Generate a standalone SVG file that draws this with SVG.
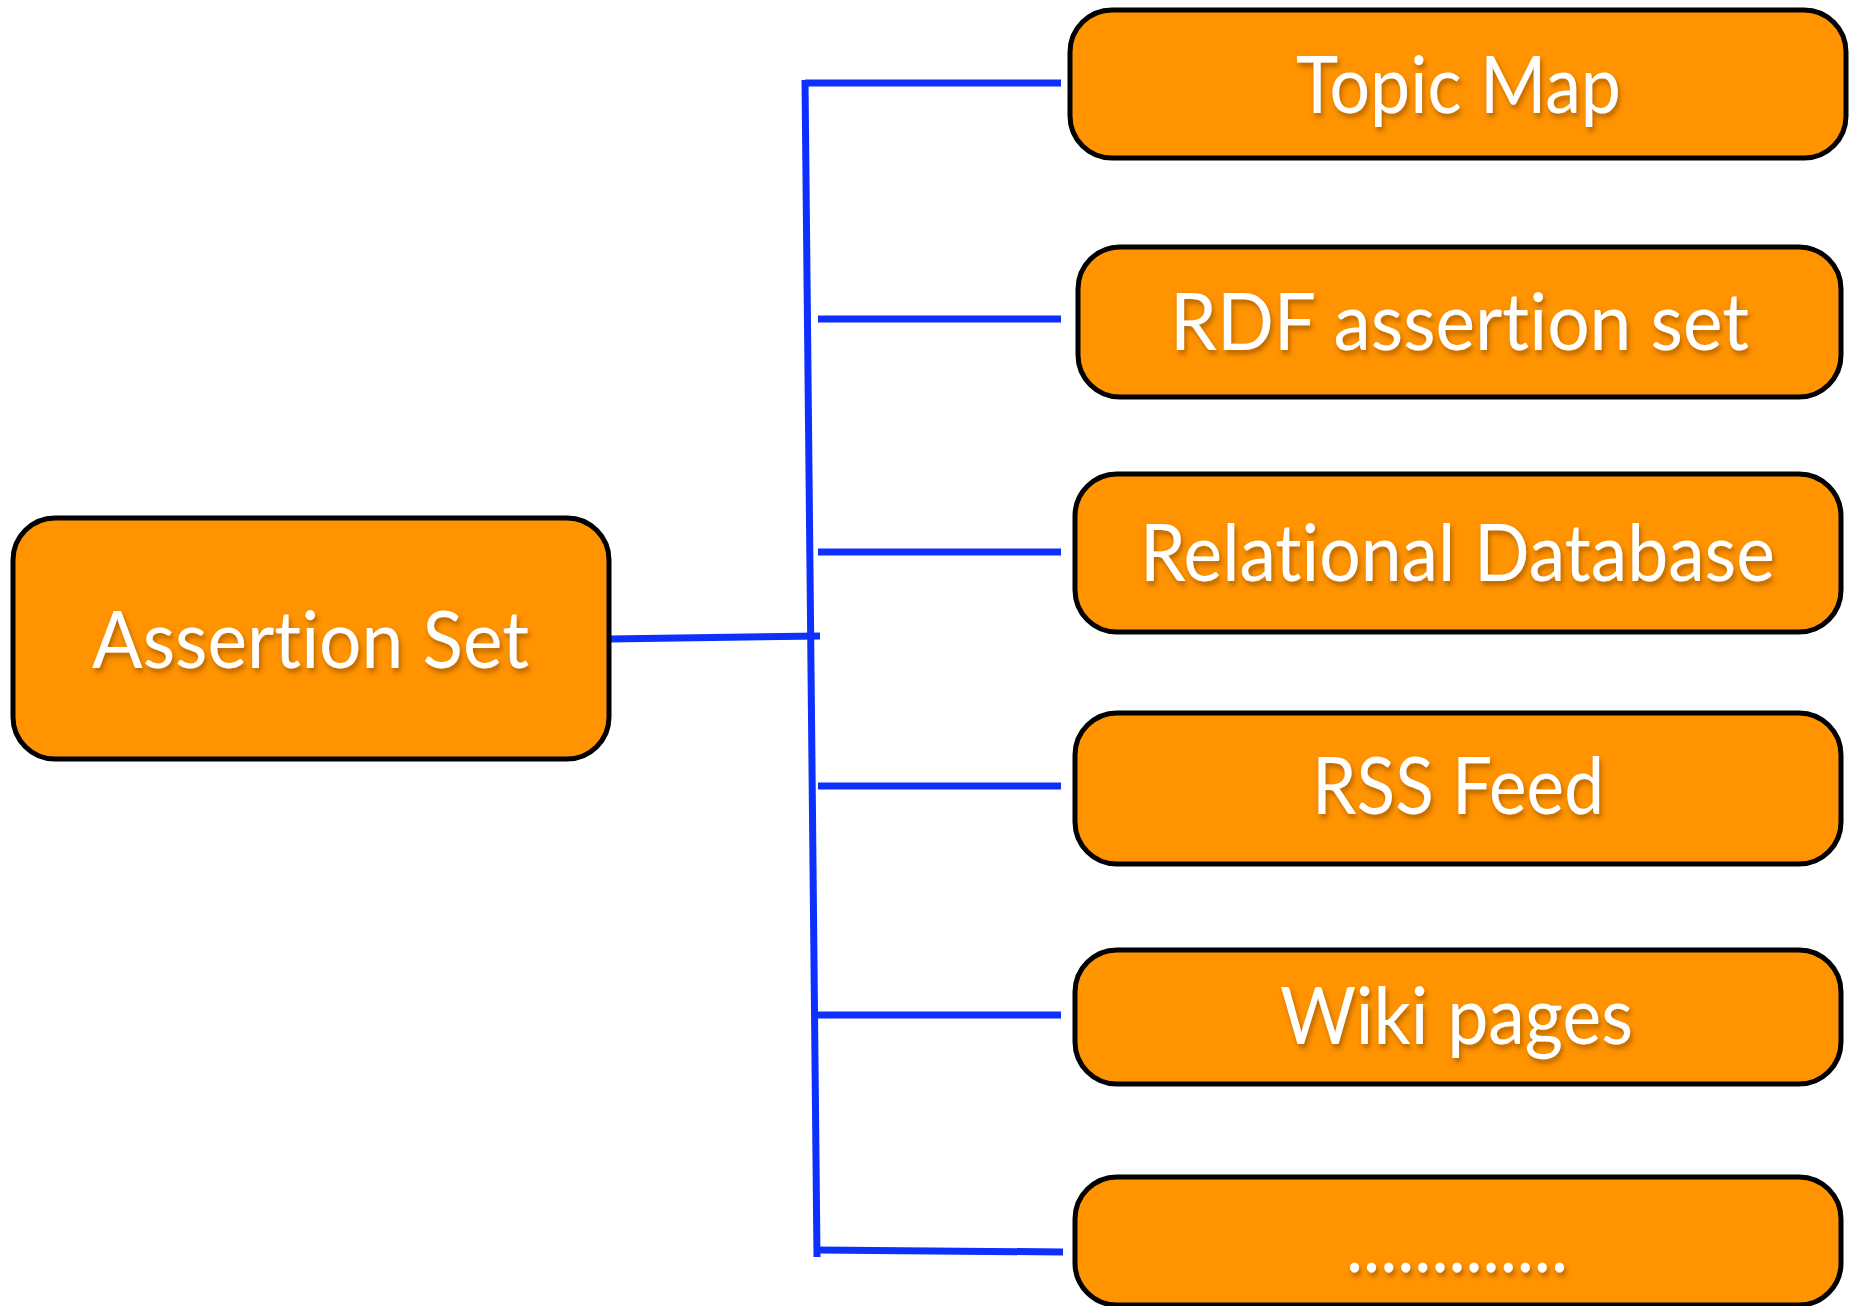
<svg xmlns="http://www.w3.org/2000/svg" width="1853" height="1306" viewBox="0 0 1853 1306">
<defs>
<filter id="sh" x="-10%" y="-30%" width="120%" height="160%">
<feDropShadow dx="2" dy="4" stdDeviation="2.5" flood-color="#7a3c00" flood-opacity="0.55"/>
</filter>
<style>
.box{fill:#FF9300;stroke:#000;stroke-width:5}
.lbl{font-family:"Lato","Noto Sans",sans-serif;font-size:80px;fill:#fff;filter:url(#sh);font-variant-ligatures:none;font-feature-settings:"liga" 0,"clig" 0,"dlig" 0}
.ln{stroke:#0D30FF;stroke-width:7;fill:none;stroke-linecap:butt}
</style>
</defs>
<rect width="1853" height="1306" fill="#fff"/>
<g id="connectors">
<line class="ln" x1="805" y1="80" x2="817" y2="1257"/>
<line class="ln" x1="805" y1="83" x2="1061" y2="83"/>
<line class="ln" x1="818" y1="319" x2="1061" y2="319"/>
<line class="ln" x1="818" y1="552" x2="1061" y2="552"/>
<line class="ln" x1="818" y1="786" x2="1061" y2="786"/>
<line class="ln" x1="818" y1="1015" x2="1061" y2="1015"/>
<line class="ln" x1="817" y1="1250" x2="1063" y2="1252"/>
<line class="ln" x1="609" y1="639" x2="820" y2="636"/>
</g>
<g id="assertion-set">
<rect class="box" x="13" y="518" width="596" height="241" rx="42"/>
<text class="lbl" x="92" y="668" textLength="437" lengthAdjust="spacingAndGlyphs">Assert&#x200C;ion Set</text>
</g>
<g id="topic-map">
<rect class="box" x="1070" y="10" width="776" height="148" rx="42"/>
<text class="lbl" x="1296" y="113" textLength="325" lengthAdjust="spacingAndGlyphs">Topic Map</text>
</g>
<g id="rdf">
<rect class="box" x="1078" y="247" width="763" height="150" rx="42"/>
<text class="lbl" x="1170" y="350" textLength="579" lengthAdjust="spacingAndGlyphs">RDF assert&#x200C;ion set</text>
</g>
<g id="relational-db">
<rect class="box" x="1075" y="474" width="766" height="158" rx="42"/>
<text class="lbl" x="1140" y="581" textLength="635" lengthAdjust="spacingAndGlyphs">Relat&#x200C;ional Database</text>
</g>
<g id="rss">
<rect class="box" x="1075" y="713" width="766" height="151" rx="42"/>
<text class="lbl" x="1312" y="814" textLength="292" lengthAdjust="spacingAndGlyphs">RSS Feed</text>
</g>
<g id="wiki">
<rect class="box" x="1075" y="950" width="766" height="134" rx="42"/>
<text class="lbl" x="1280" y="1044" textLength="353" lengthAdjust="spacingAndGlyphs">Wiki pages</text>
</g>
<g id="more">
<rect class="box" x="1075" y="1177" width="766" height="128" rx="42"/>
<text class="lbl" x="1346" y="1272" textLength="222" lengthAdjust="spacingAndGlyphs">.............</text>
</g>
</svg>
